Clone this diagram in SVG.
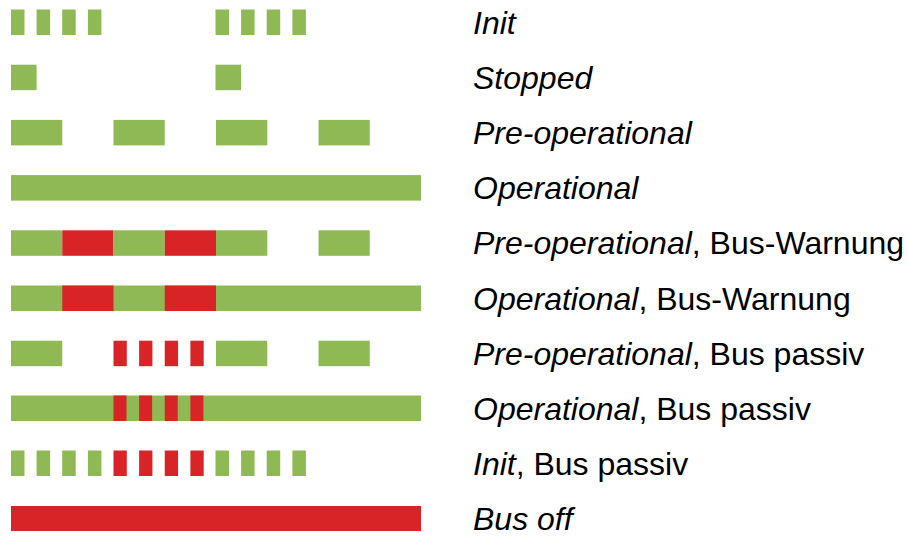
<svg xmlns="http://www.w3.org/2000/svg" width="908" height="536" viewBox="0 0 908 536">
<style>
.g{fill:#8FB955}
.r{fill:#D92427}
text{font-family:"Liberation Sans",Arial,sans-serif;font-size:32px;fill:#000}
.i{font-style:italic}
</style>
<rect width="908" height="536" fill="#fff"/>
<g id="row-init">
<rect class="g" x="11" y="9.5" width="13.5" height="25.5"/>
<rect class="g" x="36.6" y="9.5" width="13.5" height="25.5"/>
<rect class="g" x="62.2" y="9.5" width="13.5" height="25.5"/>
<rect class="g" x="87.9" y="9.5" width="13.5" height="25.5"/>
<rect class="g" x="215.5" y="9.5" width="13.5" height="25.5"/>
<rect class="g" x="241.1" y="9.5" width="13.5" height="25.5"/>
<rect class="g" x="266.7" y="9.5" width="13.5" height="25.5"/>
<rect class="g" x="292.4" y="9.5" width="13.5" height="25.5"/>
<text x="473" y="33.5" class="i">Init</text>
</g>
<g id="row-stopped">
<rect class="g" x="11" y="64.7" width="25.6" height="25.5"/>
<rect class="g" x="215.5" y="64.7" width="25.6" height="25.5"/>
<text x="473" y="88.7" class="i">Stopped</text>
</g>
<g id="row-preop">
<rect class="g" x="11" y="119.9" width="51.25" height="25.5"/>
<rect class="g" x="113.5" y="119.9" width="51.25" height="25.5"/>
<rect class="g" x="216" y="119.9" width="51.25" height="25.5"/>
<rect class="g" x="318.5" y="119.9" width="51.25" height="25.5"/>
<text x="473" y="143.9" class="i">Pre-operational</text>
</g>
<g id="row-op">
<rect class="g" x="11" y="175.1" width="410" height="25.5"/>
<text x="473" y="199.1" class="i">Operational</text>
</g>
<g id="row-preop-warn">
<rect class="g" x="11" y="230.3" width="51.25" height="25.5"/>
<rect class="r" x="62.25" y="230.3" width="51.25" height="25.5"/>
<rect class="g" x="113.5" y="230.3" width="51.25" height="25.5"/>
<rect class="r" x="164.75" y="230.3" width="51.25" height="25.5"/>
<rect class="g" x="216" y="230.3" width="51.25" height="25.5"/>
<rect class="g" x="318.5" y="230.3" width="51.25" height="25.5"/>
<text x="473" y="254.3"><tspan class="i">Pre-operational</tspan>, Bus-Warnung</text>
</g>
<g id="row-op-warn">
<rect class="g" x="11" y="285.5" width="410" height="25.5"/>
<rect class="r" x="62.25" y="285.5" width="51.25" height="25.5"/>
<rect class="r" x="164.75" y="285.5" width="51.25" height="25.5"/>
<text x="473" y="309.5"><tspan class="i">Operational</tspan>, Bus-Warnung</text>
</g>
<g id="row-preop-passiv">
<rect class="g" x="11" y="340.7" width="51.25" height="25.5"/>
<rect class="r" x="113.5" y="340.7" width="13.3" height="25.5"/>
<rect class="r" x="139.1" y="340.7" width="13.3" height="25.5"/>
<rect class="r" x="164.75" y="340.7" width="13.3" height="25.5"/>
<rect class="r" x="190.4" y="340.7" width="13.3" height="25.5"/>
<rect class="g" x="216" y="340.7" width="51.25" height="25.5"/>
<rect class="g" x="318.5" y="340.7" width="51.25" height="25.5"/>
<text x="473" y="364.7"><tspan class="i">Pre-operational</tspan>, Bus passiv</text>
</g>
<g id="row-op-passiv">
<rect class="g" x="11" y="395.5" width="410" height="25.5"/>
<rect class="r" x="113.5" y="395.5" width="13" height="25.5"/>
<rect class="r" x="139.1" y="395.5" width="13" height="25.5"/>
<rect class="r" x="164.75" y="395.5" width="13" height="25.5"/>
<rect class="r" x="190.4" y="395.5" width="13" height="25.5"/>
<text x="473" y="419.5"><tspan class="i">Operational</tspan>, Bus passiv</text>
</g>
<g id="row-init-passiv">
<rect class="g" x="11" y="450.5" width="13.5" height="25.5"/>
<rect class="g" x="36.6" y="450.5" width="13.5" height="25.5"/>
<rect class="g" x="62.2" y="450.5" width="13.5" height="25.5"/>
<rect class="g" x="87.9" y="450.5" width="13.5" height="25.5"/>
<rect class="r" x="113.5" y="450.5" width="13.3" height="25.5"/>
<rect class="r" x="139.1" y="450.5" width="13.3" height="25.5"/>
<rect class="r" x="164.75" y="450.5" width="13.3" height="25.5"/>
<rect class="r" x="190.4" y="450.5" width="13.3" height="25.5"/>
<rect class="g" x="215.5" y="450.5" width="13.5" height="25.5"/>
<rect class="g" x="241.1" y="450.5" width="13.5" height="25.5"/>
<rect class="g" x="266.7" y="450.5" width="13.5" height="25.5"/>
<rect class="g" x="292.4" y="450.5" width="13.5" height="25.5"/>
<text x="473" y="474.5"><tspan class="i">Init</tspan>, Bus passiv</text>
</g>
<g id="row-busoff">
<rect class="r" x="11" y="506" width="410" height="25" />
<text x="473" y="530" class="i">Bus off</text>
</g>
<g id="connectors"></g>
</svg>
